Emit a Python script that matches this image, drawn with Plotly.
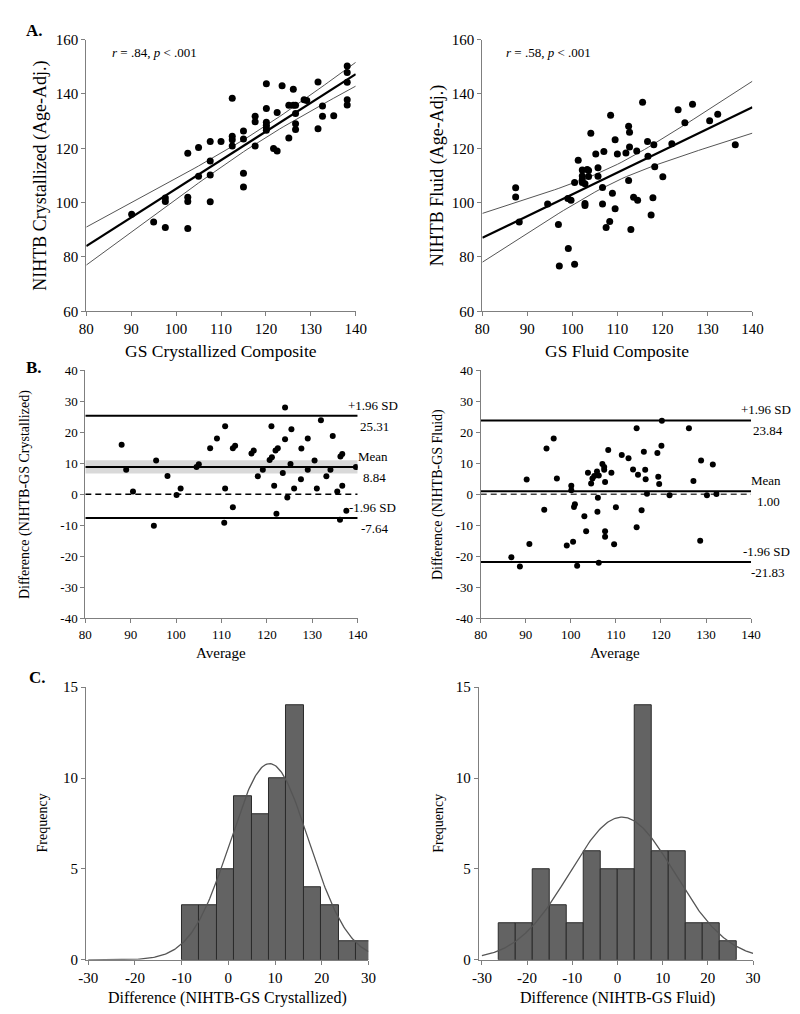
import numpy as np
import plotly.graph_objects as go

# ---------------- data ----------------
# A. GS composite vs NIHTB (age adjusted)
gs_cry = [90.1, 95.0, 97.6, 97.6, 97.6, 102.6, 102.6, 102.6, 102.6, 105.0, 105.0, 107.6, 107.6, 107.6,
          107.6, 110.0, 112.5, 112.5, 112.5, 112.5, 115.0, 115.0, 115.0, 115.0, 117.6, 117.6, 117.6,
          120.1, 120.1, 120.1, 120.1, 120.1, 120.1, 121.7, 122.5, 122.5, 123.6, 125.1, 125.1, 126.1,
          126.6, 126.1, 126.6, 126.6, 126.6, 128.5, 129.1, 131.6, 131.6, 132.6, 132.6, 135.1, 138.1,
          138.1, 138.1, 138.1, 138.1]
nih_cry = [95.7, 92.9, 90.8, 101.7, 100.4, 118.2, 102.0, 100.4, 90.5, 120.3, 109.7, 122.5, 115.3, 110.2,
           100.3, 122.5, 138.4, 124.4, 123.1, 120.8, 126.4, 123.4, 110.8, 105.7, 131.8, 129.8, 120.8,
           143.8, 134.6, 129.6, 128.5, 127.5, 126.6, 119.9, 119.0, 133.2, 143.0, 123.8, 135.8, 135.8,
           135.8, 141.7, 132.8, 129.0, 126.9, 137.9, 137.6, 144.4, 127.2, 135.6, 131.8, 132.0, 150.3,
           147.9, 144.3, 137.9, 135.9]

gs_fl = [87.4, 87.4, 88.2, 94.5, 96.9, 97.1, 99.1, 99.0, 99.7, 100.5, 100.5, 101.3, 102.2, 102.2, 102.2,
         102.2, 102.8, 102.8, 102.8, 103.3, 103.6, 103.6, 104.1, 105.2, 105.7, 105.7, 106.7, 106.7,
         107.0, 107.5, 108.3, 108.5, 108.9, 109.5, 109.5, 110.0, 111.9, 112.5, 112.7, 112.7, 112.5,
         113.0, 113.6, 114.5, 114.3, 115.6, 116.7, 116.8, 117.5, 117.9, 118.1, 118.3, 120.1, 122.1,
         123.5, 125.0, 126.7, 130.5, 132.3, 136.2]
nih_fl = [105.5, 102.1, 92.9, 99.5, 91.9, 76.7, 83.1, 101.5, 100.9, 77.3, 107.4, 115.6, 112.0, 109.8,
          108.4, 107.4, 106.9, 99.7, 98.9, 112.2, 111.8, 109.6, 125.5, 117.9, 112.8, 109.7, 105.6, 99.5,
          118.8, 90.8, 93.0, 132.2, 103.4, 123.1, 97.7, 117.9, 118.3, 128.1, 125.9, 120.5, 108.1, 90.1,
          102.0, 100.9, 119.0, 136.9, 122.5, 117.1, 95.4, 101.8, 121.3, 113.2, 109.5, 121.7, 134.2,
          129.4, 136.2, 130.1, 132.5, 121.3]

# B. Bland-Altman
ba_cry_avg = [88.0, 89.0, 90.5, 95.1, 95.6, 98.1, 100.1, 101.0, 104.5, 105.0, 107.5, 109.0, 110.6, 110.8,
              110.8, 112.5, 112.5, 113.0, 116.6, 117.1, 118.0, 119.1, 120.6, 121.1, 121.0, 121.6, 121.9,
              122.4, 122.1, 123.5, 124.0, 124.0, 124.5, 125.2, 125.4, 126.0, 127.5, 127.6, 129.0, 129.0,
              130.5, 131.0, 131.9, 133.1, 134.0, 134.5, 135.5, 136.1, 136.2, 136.6, 136.6, 137.5, 139.6]
ba_cry_diff = [16.0, 7.9, 0.9, -10.1, 10.9, 5.9, -0.2, 1.9, 8.8, 9.7, 14.9, 18.0, -9.2, 22.0, 1.9, -4.2,
               14.9, 15.7, 13.2, 14.1, 5.8, 7.9, 11.1, 12.0, 22.0, 2.8, 14.1, 14.9, -6.3, 6.9, 28.0, 17.8,
               -1.0, 9.8, 21.0, 1.9, 4.9, 14.8, 18.0, 7.9, 10.9, 1.9, 23.9, 5.8, 7.9, 18.8, 0.9, -8.2,
               12.2, 13.0, 2.8, -5.3, 8.8]

ba_fl_avg = [86.8, 88.7, 90.2, 90.8, 94.6, 96.2, 94.1, 96.9, 99.1, 100.1, 100.1, 100.5, 100.9, 100.7,
             101.4, 103.0, 103.4, 103.8, 104.5, 104.8, 105.2, 105.8, 106.2, 106.0, 105.9, 106.2, 107.0,
             107.4, 107.4, 107.6, 107.6, 107.6, 108.3, 109.0, 110.0, 109.6, 111.3, 112.8, 113.8, 114.9,
             114.6, 114.6, 116.2, 116.5, 116.6, 115.7, 116.9, 119.2, 120.1, 120.2, 119.4, 119.6, 121.9,
             126.2, 127.2, 128.9, 128.7, 130.2, 131.5, 132.3]
ba_fl_diff = [-20.3, -23.3, 4.8, -16.0, 14.8, 18.0, -5.0, 5.1, -16.5, 2.8, 1.3, -15.3, -3.2, -4.1, -23.0,
              -7.1, -11.9, 7.0, 3.5, 5.1, 5.9, 7.4, 6.1, -1.1, -5.6, -22.1, 9.8, 8.8, 7.9, -11.9, -13.7,
              4.0, 14.3, 7.0, -4.2, -16.1, 12.7, 11.6, 8.0, 6.3, 21.3, -10.6, 13.7, 7.9, 4.9, -5.1, 0.2,
              13.3, 15.7, 23.7, 5.7, 3.3, -0.3, 21.3, 4.3, 10.9, -15.0, -0.3, 9.6, 0.1]

cry_upper, cry_mean, cry_lower = 25.31, 8.84, -7.64
cry_mean_ci = [6.7, 11.0]
fl_upper, fl_mean, fl_lower = 23.84, 1.00, -21.83

# C. histograms of the differences
hist_cry_counts = [3, 3, 5, 9, 8, 10, 14, 4, 3, 1, 1]
hist_cry_start, hist_cry_width = -9.95, 3.73
hist_fl_counts = [2, 2, 5, 3, 2, 6, 5, 5, 14, 6, 6, 2, 2, 1]
hist_fl_start, hist_fl_width = -26.3, 3.76

# tick values (labels written with a plain hyphen like the original)
ticks_a_x = [80, 90, 100, 110, 120, 130, 140]
ticks_a_y = [60, 80, 100, 120, 140, 160]
ticks_b_y = [-40, -30, -20, -10, 0, 10, 20, 30, 40]
ticks_c_x = [-30, -20, -10, 0, 10, 20, 30]
ticks_c_y = [0, 5, 10, 15]

FONT = "Liberation Serif"
W, H = 800, 1014


def px_x(a, b):
    return [a / W, b / W]


def px_y(top, bottom):
    return [1 - bottom / H, 1 - top / H]


def fit_band(x, y, xs):
    x = np.asarray(x, float)
    y = np.asarray(y, float)
    n = len(x)
    b1, b0 = np.polyfit(x, y, 1)
    s = np.sqrt(np.sum((y - (b0 + b1 * x)) ** 2) / (n - 2))
    sxx = np.sum((x - x.mean()) ** 2)
    yh = b0 + b1 * xs
    se = s * np.sqrt(1 / n + (xs - x.mean()) ** 2 / sxx)
    return yh, yh - 2.0 * se, yh + 2.0 * se


fig = go.Figure()

# ---- A panels
xs = np.linspace(80, 140, 61)
for gx, gy, xa, ya in [(gs_cry, nih_cry, "x", "y"), (gs_fl, nih_fl, "x2", "y2")]:
    yh, lo, hi = fit_band(gx, gy, xs)
    fig.add_trace(go.Scatter(x=xs, y=hi, mode="lines", line=dict(color="#555", width=1), xaxis=xa, yaxis=ya))
    fig.add_trace(go.Scatter(x=xs, y=lo, mode="lines", line=dict(color="#555", width=1), xaxis=xa, yaxis=ya))
    fig.add_trace(go.Scatter(x=xs, y=yh, mode="lines", line=dict(color="black", width=2.2), xaxis=xa, yaxis=ya))
    fig.add_trace(go.Scatter(x=gx, y=gy, mode="markers", marker=dict(color="black", size=7),
                             xaxis=xa, yaxis=ya))

# ---- B panels
ends = [80, 140]
fig.add_trace(go.Scatter(x=ends + ends[::-1], y=[cry_mean_ci[0]] * 2 + [cry_mean_ci[1]] * 2, fill="toself",
                         fillcolor="#d9d9d9", line=dict(width=0), mode="lines", xaxis="x3", yaxis="y3"))
for xa, ya, up, mn, lw, zc in [("x3", "y3", cry_upper, cry_mean, cry_lower, "black"),
                               ("x4", "y4", fl_upper, fl_mean, fl_lower, "#444")]:
    fig.add_trace(go.Scatter(x=ends, y=[0, 0], mode="lines", line=dict(color=zc, width=1.5, dash="6px,4px"),
                             xaxis=xa, yaxis=ya))
    for v in (up, mn, lw):
        fig.add_trace(go.Scatter(x=ends, y=[v, v], mode="lines", line=dict(color="black", width=2),
                                 xaxis=xa, yaxis=ya))
fig.add_trace(go.Scatter(x=ba_cry_avg, y=ba_cry_diff, mode="markers", marker=dict(color="black", size=6),
                         xaxis="x3", yaxis="y3"))
fig.add_trace(go.Scatter(x=ba_fl_avg, y=ba_fl_diff, mode="markers", marker=dict(color="black", size=6),
                         xaxis="x4", yaxis="y4"))

# ---- C panels
curve_x = np.linspace(-30, 30, 241)
for counts, start, width, mn, up, lw, xa, ya in [
        (hist_cry_counts, hist_cry_start, hist_cry_width, cry_mean, cry_upper, cry_lower, "x5", "y5"),
        (hist_fl_counts, hist_fl_start, hist_fl_width, fl_mean, fl_upper, fl_lower, "x6", "y6")]:
    centers = [start + width * (i + 0.5) for i in range(len(counts))]
    fig.add_trace(go.Bar(x=centers, y=counts, width=width, marker=dict(color="#636363",
                                                                       line=dict(color="#2b2b2b", width=1)),
                         xaxis=xa, yaxis=ya))
    sd = (up - lw) / 3.92
    n = sum(counts)
    dens = n * width / (sd * np.sqrt(2 * np.pi)) * np.exp(-0.5 * ((curve_x - mn) / sd) ** 2)
    fig.add_trace(go.Scatter(x=curve_x, y=dens, mode="lines", line=dict(color="#555", width=1.3),
                             xaxis=xa, yaxis=ya))

ax_common = dict(showline=True, linecolor="#7f7f7f", linewidth=1, ticks="outside", ticklen=4,
                 tickcolor="#7f7f7f", showgrid=False, zeroline=False)

fig.update_layout(
    width=W, height=H, margin=dict(l=0, r=0, t=0, b=0), showlegend=False,
    plot_bgcolor="white", paper_bgcolor="white", bargap=0,
    font=dict(family=FONT, color="black", size=14),
)

axes = {
    "1": (px_x(72, 348), px_y(24, 300), [80, 140], ticks_a_x, [60, 160], ticks_a_y, 15),
    "2": (px_x(477.7, 754.3), px_y(24, 300), [80, 140], ticks_a_x, [60, 160], ticks_a_y, 15),
    "3": (px_x(71, 350), px_y(360, 612), [80, 140], ticks_a_x, [-40, 40], ticks_b_y, 13),
    "4": (px_x(476, 753), px_y(360, 612), [80, 140], ticks_a_x, [-40, 40], ticks_b_y, 13),
    "5": (px_x(71.7, 361), px_y(682, 959), [-30.48, 30], ticks_c_x, [0, 15], ticks_c_y, 15),
    "6": (px_x(474, 755), px_y(682, 959), [-30.7, 30], ticks_c_x, [0, 15], ticks_c_y, 15),
}
for k, (dx, dy, xr, xt, yr, yt, fs) in axes.items():
    sfx = "" if k == "1" else k
    fig.update_layout(**{
        "xaxis" + sfx: dict(ax_common, domain=dx, range=xr, tickvals=xt, ticktext=[str(v) for v in xt],
                            anchor="y" + sfx, tickfont=dict(size=fs)),
        "yaxis" + sfx: dict(ax_common, domain=dy, range=yr, tickvals=yt, ticktext=[str(v) for v in yt],
                            anchor="x" + sfx, tickfont=dict(size=fs)),
    })


def note(text, x, y, size, angle=0, xanchor="center", bold=False):
    fig.add_annotation(text=f"<b>{text}</b>" if bold else text, x=x / W, y=1 - y / H, xref="paper",
                       yref="paper", showarrow=False, textangle=angle, xanchor=xanchor, yanchor="middle",
                       font=dict(size=size, family=FONT, color="black"))


# panel letters
note("A.", 8, 15, 17, xanchor="left", bold=True)
note("B.", 8, 357, 17, xanchor="left", bold=True)
note("C.", 11, 672, 17, xanchor="left", bold=True)

# A titles
note("<i>r</i> = .84, <i>p</i> &lt; .001", 96, 37, 13, xanchor="left")
note("<i>r</i> = .58, <i>p</i> &lt; .001", 500, 37, 13, xanchor="left")
note("NIHTB Crystallized (Age-Adj.)", 25, 162, 18, angle=-90)
note("NIHTB Fluid (Age-Adj.)", 432, 162, 18, angle=-90)
note("GS Crystallized Composite", 210, 340, 17.5)
note("GS Fluid Composite", 616, 340, 17.5)

# B titles and limit labels
note("Average", 210, 647, 15)
note("Average", 614, 647, 15)
note("Difference (NIHTB-GS Crystallized)", 10, 486, 14, angle=-90)
note("Difference (NIHTB-GS Fluid)", 433, 486, 14, angle=-90)
for xa, ya, labels in [("x3", "y3", [("+1.96 SD", cry_upper), ("Mean", cry_mean), ("-1.96 SD", cry_lower)]),
                       ("x4", "y4", [("+1.96 SD", fl_upper), ("Mean", fl_mean), ("-1.96 SD", fl_lower)])]:
    for name, v in labels:
        fig.add_annotation(text=name, x=140, y=v, xref=xa, yref=ya, showarrow=False, xanchor="center",
                           yanchor="bottom", xshift=15, yshift=1, font=dict(size=13, family=FONT))
        fig.add_annotation(text=f"{v:.2f}", x=140, y=v, xref=xa, yref=ya, showarrow=False,
                           xanchor="center", yanchor="top", xshift=17, yshift=-1,
                           font=dict(size=13, family=FONT))

# C titles
note("Difference (NIHTB-GS Crystallized)", 217, 998, 16)
note("Difference (NIHTB-GS Fluid)", 616, 998, 16)
note("Frequency", 27, 820, 14, angle=-90)
note("Frequency", 432, 820, 14, angle=-90)

fig.write_html("out.html")
